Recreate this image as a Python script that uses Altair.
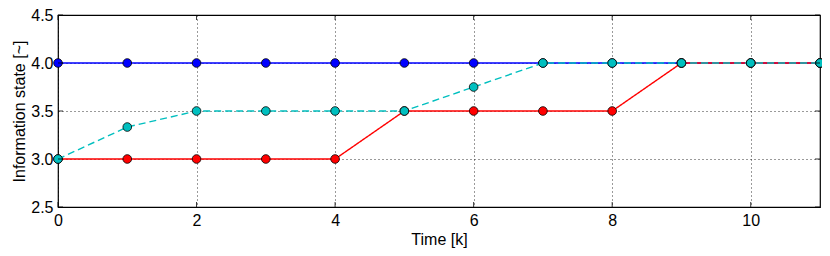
import altair as alt
import pandas as pd

time = list(range(12))
blue = [4.0] * 12
red = [3.0, 3.0, 3.0, 3.0, 3.0, 3.5, 3.5, 3.5, 3.5, 4.0, 4.0, 4.0]
cyan = [3.0, 3.333, 3.5, 3.5, 3.5, 3.5, 3.75, 4.0, 4.0, 4.0, 4.0, 4.0]
x_ticks = [0, 2, 4, 6, 8, 10]
y_ticks = [2.5, 3.0, 3.5, 4.0, 4.5]

W, H = 762, 192
FONT = "Liberation Sans"

xs = alt.Scale(domain=[0, 11], nice=False, zero=False)
ys = alt.Scale(domain=[2.5, 4.5], nice=False, zero=False)

axis_x = alt.Axis(values=x_ticks, format="d", title="Time [k]")
axis_y = alt.Axis(values=y_ticks, format=".1f", title="Information state [~]")

def X(field):
    return alt.X(field, scale=xs, axis=axis_x)

def Y(field):
    return alt.Y(field, scale=ys, axis=axis_y)

def series(vals, color, dash):
    df = pd.DataFrame({"t": time, "v": vals})
    base = alt.Chart(df).encode(x=X("t:Q"), y=Y("v:Q"))
    line = base.mark_line(color=color, strokeWidth=1.4, strokeDash=dash, clip=True)
    pts = base.mark_point(filled=True, fill=color, stroke="black", strokeWidth=0.8,
                          size=75, opacity=1, clip=False)
    return line + pts

# inward ticks
xt = pd.DataFrame({"t": x_ticks})
yt = pd.DataFrame({"v": y_ticks})
tick_style = dict(color="black", strokeWidth=0.8)
tb = alt.Chart(xt).mark_rule(**tick_style).encode(x=X("t:Q"), y=alt.value(H), y2=alt.value(H - 5))
tt = alt.Chart(xt).mark_rule(**tick_style).encode(x=X("t:Q"), y=alt.value(0), y2=alt.value(5))
tl = alt.Chart(yt).mark_rule(**tick_style).encode(y=Y("v:Q"), x=alt.value(0), x2=alt.value(5))
tr = alt.Chart(yt).mark_rule(**tick_style).encode(y=Y("v:Q"), x=alt.value(W), x2=alt.value(W - 5))

chart = alt.layer(
    series(blue, "#0000ff", [1, 0]),
    series(red, "#ff0000", [1, 0]),
    series(cyan, "#00bfbf", [7, 4]),
    tb, tt, tl, tr,
).properties(
    width=W, height=H,
    background="white",
    autosize=alt.AutoSizeParams(type="none"),
    padding={"left": 50, "top": 7, "right": 2, "bottom": 48},
).configure_view(
    stroke="black", strokeWidth=1.2
).configure_axis(
    grid=True, gridColor="black", gridDash=[1, 3], gridWidth=0.8, gridOpacity=1,
    domain=False, ticks=False,
    labelFont=FONT, labelFontSize=16, labelColor="black", labelPadding=5,
    titleFont=FONT, titleFontSize=16, titleFontWeight="normal", titleColor="black",
    labelFlush=False,
).configure_axisX(titlePadding=3).configure_axisY(titlePadding=3)

chart.save("out.html", embed_options={"renderer": "svg", "actions": False})
